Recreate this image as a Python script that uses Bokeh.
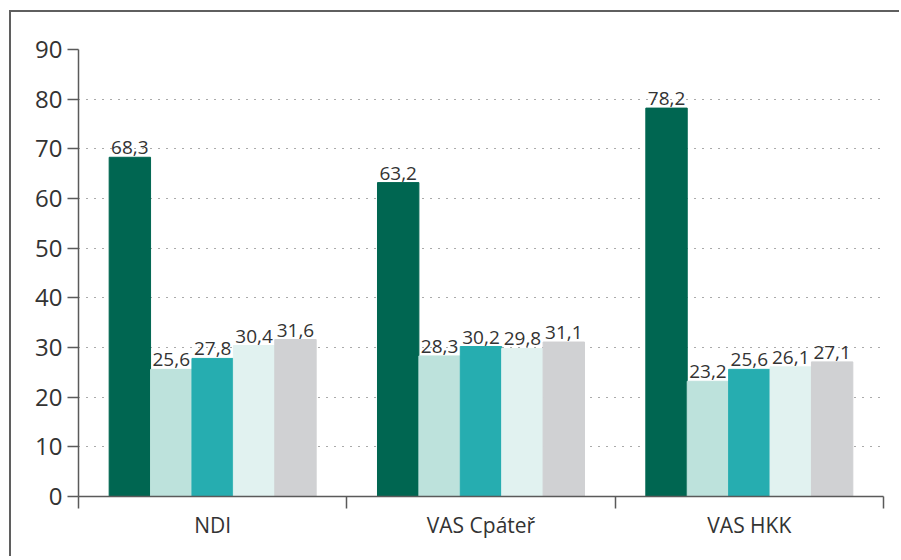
from bokeh.plotting import figure
from bokeh.models import ColumnDataSource, FixedTicker, Range1d
from bokeh.core.properties import value
from bokeh.embed import file_html
from bokeh.resources import INLINE

categories = ["NDI", "VAS Cpáteř", "VAS HKK"]
series1 = [68.3, 63.2, 78.2]
series2 = [25.6, 28.3, 23.2]
series3 = [27.8, 30.2, 25.6]
series4 = [30.4, 29.8, 26.1]
series5 = [31.6, 31.1, 27.1]
colors = ["#006651", "#bde2dc", "#26adb0", "#e1f2f0", "#d0d1d3"]
y_ticks = list(range(0, 100, 10))

all_series = [series1, series2, series3, series4, series5]

p = figure(width=890, height=546, output_backend="svg", toolbar_location=None,
           x_range=Range1d(0, len(categories)), y_range=Range1d(0, 90),
           min_border_left=67, min_border_top=37, min_border_right=18, min_border_bottom=62)
p.styles = {"border-left": "2px solid #5f5f5f", "border-top": "2px solid #5f5f5f",
            "margin-top": "10px", "margin-left": "9px"}
p.outline_line_color = None

bw = 0.1543
font = value("Open Sans")
for k, s in enumerate(all_series):
    xs = [i + 0.5 + (k - 2) * bw for i in range(len(categories))]
    src = ColumnDataSource(dict(x=xs, top=s, lab=[f"{v:.1f}".replace(".", ",") for v in s]))
    p.vbar(x="x", top="top", bottom=0, width=bw, color=colors[k], source=src)
    p.text(x="x", y="top", text="lab", source=src, text_align="center",
           text_baseline="bottom", y_offset=-3, text_font=font,
           text_font_size="19px", text_color="#333333")

# y axis
p.yaxis.ticker = FixedTicker(ticks=y_ticks)
p.yaxis.major_label_text_font = "Open Sans"
p.yaxis.major_label_text_font_size = "24px"
p.yaxis.major_label_text_color = "#333333"
p.yaxis.axis_line_color = "#5a5a5a"
p.yaxis.axis_line_width = 1.5
p.yaxis.major_tick_line_color = "#5a5a5a"
p.yaxis.major_tick_line_width = 1.5
p.yaxis.major_tick_in = 0
p.yaxis.major_tick_out = 11
p.yaxis.minor_tick_line_color = None
p.yaxis.major_label_standoff = 5

# x axis: labels at centers, ticks at boundaries
centers = [i + 0.5 for i in range(len(categories))]
p.xaxis.ticker = FixedTicker(ticks=centers, minor_ticks=list(range(len(categories) + 1)))
p.xaxis.major_label_overrides = {c: name for c, name in zip(centers, categories)}
p.xaxis.major_tick_line_color = None
p.xaxis.minor_tick_line_color = "#5a5a5a"
p.xaxis.minor_tick_line_width = 1.5
p.xaxis.minor_tick_in = 0
p.xaxis.minor_tick_out = 12
p.xaxis.axis_line_color = "#5a5a5a"
p.xaxis.axis_line_width = 1.5
p.xaxis.major_label_text_font = "Open Sans"
p.xaxis.major_label_text_font_size = "21px"
p.xaxis.major_label_text_color = "#333333"
p.xaxis.major_label_standoff = 2

p.xgrid.grid_line_color = None
p.ygrid.ticker = FixedTicker(ticks=y_ticks[1:])
p.ygrid.grid_line_color = "#555555"
p.ygrid.grid_line_dash = "1 7"
p.ygrid.grid_line_width = 1

open("out.html", "w").write(file_html(p, INLINE))
